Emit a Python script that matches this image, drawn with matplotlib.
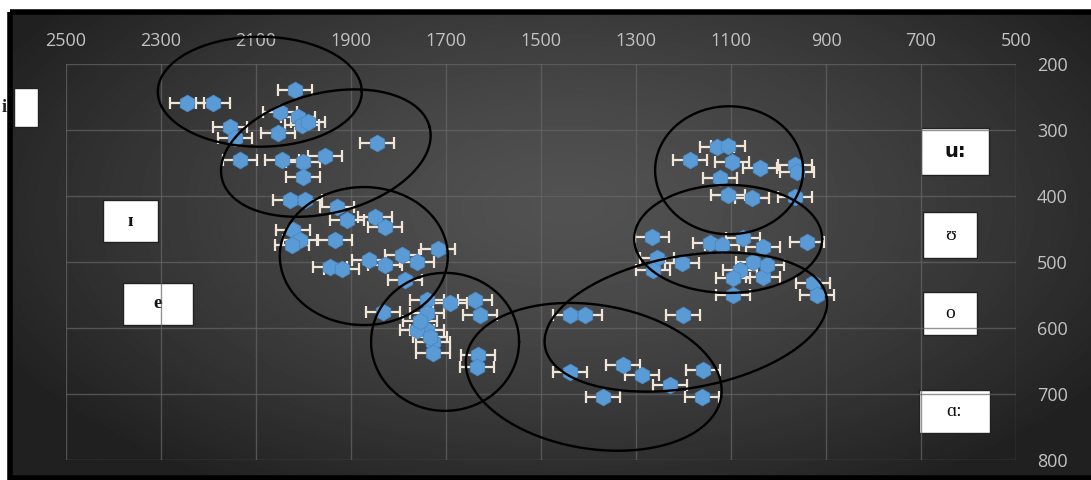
import numpy as np
import matplotlib
matplotlib.use("Agg")
import matplotlib.pyplot as plt
from matplotlib.patches import Rectangle

# F2 (Hz) and F1 (Hz) of each token
f2 = [2245, 2191, 2018, 2050, 2012, 2003, 1990, 2155, 2144, 2054,
      2134, 2045, 2001, 1955, 2001, 1845, 2028, 1997, 1930, 1908,
      2022, 2007, 2024, 1934, 1850, 1828, 1862, 1828, 1793, 1761,
      1717, 1944, 1920, 1786, 1833, 1740, 1740, 1740, 1761, 1727,
      1727, 1692, 1639, 1628, 1633, 1635, 1754, 1733, 1439, 1407,
      1201, 1439, 1327, 1287, 1228, 1159, 1370, 1161, 1129, 1106,
      1186, 1098, 1039, 965, 961, 1123, 1106, 1056, 965, 1266,
      1256, 1264, 1203, 1144, 1119, 1075, 1033, 940, 1054, 1081,
      1033, 1096, 1096, 927, 919, 1024]
f1 = [259, 259, 239, 273, 280, 292, 288, 295, 312, 305,
      345, 345, 348, 340, 371, 320, 406, 406, 417, 436,
      451, 467, 474, 467, 432, 447, 497, 505, 489, 500,
      480, 508, 510, 527, 576, 558, 577, 603, 603, 621,
      638, 562, 558, 580, 641, 659, 590, 613, 580, 580,
      580, 667, 656, 671, 686, 664, 705, 705, 326, 324,
      345, 348, 358, 353, 364, 373, 398, 403, 401, 462,
      494, 512, 501, 471, 474, 464, 477, 470, 500, 512,
      523, 524, 550, 532, 550, 505]
f2_err = [36] * len(f2)

# vowel regions: centre (F2, F1), semi-axes (px), tilt (deg)
regions = [(2092, 242, 102, 55, 0), (1953, 335, 107, 60, 14),
           (1873, 491, 84, 69, 0), (1702, 621, 74, 69, 0),
           (1389, 674, 129, 72, -9), (1195, 591, 143, 66, 10),
           (1106, 465, 94, 54, 0), (1104, 361, 74, 64, 0)]

x_ticks = list(range(2500, 400, -200))
y_ticks = list(range(200, 900, 100))

W, H = 1091, 480
fig = plt.figure(figsize=(W / 100, H / 100), dpi=100)
fig.patch.set_facecolor('white')

# background with dark radial gradient and black frame
bg = fig.add_axes([0, 0, 1, 1], zorder=-10)
bg.set_xlim(0, W)
bg.set_ylim(H, 0)
bg.axis('off')
yy, xx = np.mgrid[0:H, 0:W]
r = np.clip(np.sqrt(((xx - 560) / 640) ** 2 + ((yy - 200) / 340) ** 2), 0, 1)
shade = 0.32 - 0.19 * r ** 1.4
bg.imshow(shade, extent=(12, W, 477, 13), cmap='gray', vmin=0, vmax=1,
          aspect='auto', interpolation='bilinear')
bg.add_patch(Rectangle((10, 12), W, 466, fill=False, ec='black', lw=4))

ax = fig.add_axes([66 / W, 1 - 460 / H, 950 / W, 396 / H])
ax.patch.set_alpha(0)
ax.set_xlim(2500, 500)
ax.set_ylim(800, 200)
ax.set_xticks(x_ticks)
ax.set_yticks(y_ticks)
ax.xaxis.tick_top()
ax.yaxis.tick_right()
ax.tick_params(axis='x', length=0, pad=10, labelsize=13, labelcolor='#c2c2c2')
ax.tick_params(axis='y', length=0, pad=15, labelsize=13, labelcolor='#c2c2c2')
for lab in ax.get_xticklabels() + ax.get_yticklabels():
    lab.set_family('Open Sans')
ax.grid(True, color='#666666', lw=1, alpha=0.7)
ax.set_axisbelow(True)
for s in ax.spines.values():
    s.set_visible(False)

ax.errorbar(f2, f1, xerr=f2_err, fmt='none', ecolor='#efe6d8', elinewidth=1.6,
            capsize=4, capthick=1.6, zorder=3)
ax.plot(f2, f1, 'h', ms=12, color='#5b9bd5', mec='#4a88c4', mew=0.6, zorder=4)

fig.canvas.draw()
t = np.linspace(0, 2 * np.pi, 300)
for cx, cy, a, b, ang in regions:
    th = np.deg2rad(ang)
    u, v = a * np.cos(t), b * np.sin(t)
    c0 = ax.transData.transform((cx, cy))
    pts = np.column_stack([c0[0] + u * np.cos(th) - v * np.sin(th),
                           c0[1] + u * np.sin(th) + v * np.cos(th)])
    d = ax.transData.inverted().transform(pts)
    ax.plot(d[:, 0], d[:, 1], color='black', lw=1.7, clip_on=False, zorder=5)

# vowel label boxes (pixel positions on the figure)
serif = ['Liberation Serif', 'DejaVu Serif']
boxes = [('u:', 921, 128, 68, 47, ['DejaVu Sans'], 'bold'),
         ('ʊ', 923, 212, 54, 46, serif, 'normal'),
         ('o', 923, 292, 54, 43, serif, 'normal'),
         ('ɑ:', 919, 390, 71, 43, serif, 'normal'),
         ('ɪ', 103, 200, 55, 42, serif, 'bold'),
         ('e', 123, 283, 70, 42, serif, 'bold'),
         ('', 14, 88, 24, 39, serif, 'normal')]
for txt, x0, y0, w, h, fam, wt in boxes:
    bg.add_patch(Rectangle((x0, y0), w, h, fc='white', ec='#222222', lw=1, zorder=6))
    bg.text(x0 + w / 2, y0 + h / 2, txt, ha='center', va='center', fontsize=14,
            family=fam, weight=wt, color='#111111', zorder=7)
bg.text(4, 108, 'i', ha='center', va='center', fontsize=13, family=serif,
        weight='bold', color='#222222')

fig.savefig('out.png', dpi=100, facecolor='white')
